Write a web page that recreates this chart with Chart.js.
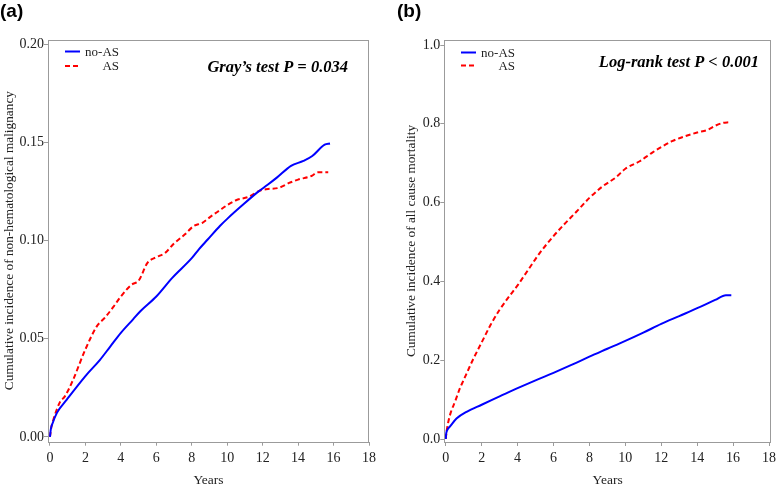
<!DOCTYPE html>
<html>
<head>
<meta charset="utf-8">
<script src="https://cdn.jsdelivr.net/npm/chart.js@4/dist/chart.umd.min.js"></script>
<style>
    html, body { margin: 0; padding: 0; background: #fff; }
    #wrap { position: relative; width: 777px; height: 489px; overflow: hidden; }
    canvas { position: absolute; top: 0; }
    #chartA { left: 0; }
    #chartB { left: 388px; }
</style>
</head>
<body>
<div id="wrap">
    <canvas id="chartA" width="388" height="489"></canvas>
    <canvas id="chartB" width="389" height="489"></canvas>
</div>
<script>
// ---- data ----
const yearTicks = [0, 2, 4, 6, 8, 10, 12, 14, 16, 18]

// (a) cumulative incidence of non-hematological malignancy
const aTicks = [0, 0.05, 0.10, 0.15, 0.20]
const aNoAsYears = [0, 0.05, 0.15, 0.4, 0.95, 2.0, 2.8, 3.4, 4.0, 4.7, 5.1, 6.0, 6.9, 8.0, 8.4, 8.9, 9.6, 10.0, 10.8, 11.7, 12.3, 12.8, 13.6, 14.3, 14.8, 15.5, 15.8]
const aNoAsInc = [0, 0.004, 0.007, 0.0124, 0.019, 0.031, 0.039, 0.046, 0.053, 0.060, 0.064, 0.0715, 0.081, 0.091, 0.0955, 0.1005, 0.1075, 0.111, 0.1175, 0.1245, 0.1285, 0.132, 0.138, 0.1405, 0.143, 0.1488, 0.1494]
const aAsYears = [0, 0.08, 0.2, 0.55, 0.85, 1.3, 2.0, 2.65, 3.1, 3.6, 4.0, 4.6, 5.0, 5.5, 6.0, 6.5, 7.0, 7.6, 8.1, 8.6, 9.1, 9.6, 10.0, 10.5, 11.2, 11.9, 12.3, 12.9, 13.5, 14.0, 14.8, 15.1, 15.7]
const aAsInc = [0, 0.005, 0.009, 0.0175, 0.0208, 0.029, 0.0446, 0.0564, 0.0607, 0.0665, 0.0715, 0.0775, 0.0795, 0.0886, 0.0915, 0.0937, 0.0985, 0.103, 0.1073, 0.109, 0.1124, 0.1155, 0.118, 0.1205, 0.1222, 0.1256, 0.1262, 0.1268, 0.1293, 0.131, 0.133, 0.1347, 0.1347]

// (b) cumulative incidence of all cause mortality
const bTicks = [0, 0.2, 0.4, 0.6, 0.8, 1.0]
const bNoAsYears = [0, 0.03, 0.1, 0.24, 0.6, 1.16, 2, 3, 4, 5, 6, 7, 8, 9, 10, 11, 12, 13, 14, 15, 15.6, 15.9]
const bNoAsInc = [0, 0.015, 0.024, 0.032, 0.052, 0.069, 0.087, 0.108, 0.129, 0.149, 0.168, 0.188, 0.209, 0.229, 0.249, 0.27, 0.292, 0.312, 0.332, 0.353, 0.365, 0.365]
const bAsYears = [0, 0.05, 0.15, 0.3, 0.52, 0.8, 1.0, 1.5, 2, 2.5, 3, 3.5, 4, 4.6, 5.2, 6, 6.6, 7.3, 8, 8.7, 9.5, 10, 10.8, 11.5, 12, 12.6, 13.3, 14, 14.6, 15.0, 15.4, 15.8]
const bAsInc = [0, 0.02, 0.045, 0.07, 0.095, 0.13, 0.15, 0.2, 0.245, 0.29, 0.328, 0.36, 0.39, 0.43, 0.47, 0.515, 0.545, 0.578, 0.612, 0.64, 0.665, 0.686, 0.705, 0.727, 0.741, 0.756, 0.768, 0.778, 0.785, 0.795, 0.802, 0.804]

const SERIF = "'Liberation Serif', 'Times New Roman', serif"
const FRAME = '#9b9b9b'
const INK = '#222'
const BLUE = '#0000ff'
const RED = '#ff0000'

function ToPoints(xs, ys) {
    return xs.map((x, i) => ({ x: x, y: ys[i] }))
}

// frame, in-plot legend, test annotation and panel letter
const panelDecor = {
    id: 'panelDecor',
    afterDraw(chart, args, o) {
        const ctx = chart.ctx
        const a = chart.chartArea
        ctx.save()

        ctx.strokeStyle = FRAME
        ctx.lineWidth = 1
        ctx.setLineDash([])
        ctx.strokeRect(Math.round(a.left) + 0.5, Math.round(a.top) + 0.5,
            Math.round(a.right - a.left) - 1, Math.round(a.bottom - a.top))

        // legend
        ctx.lineWidth = 2
        ctx.strokeStyle = BLUE
        ctx.beginPath()
        ctx.moveTo(o.legX, o.legY1)
        ctx.lineTo(o.legX + 15, o.legY1)
        ctx.stroke()
        ctx.strokeStyle = RED
        ctx.setLineDash([5, 3])
        ctx.beginPath()
        ctx.moveTo(o.legX, o.legY2)
        ctx.lineTo(o.legX + 13, o.legY2)
        ctx.stroke()
        ctx.setLineDash([])

        ctx.fillStyle = INK
        ctx.font = '13px ' + SERIF
        ctx.textAlign = 'right'
        ctx.textBaseline = 'middle'
        ctx.fillText('no-AS', o.legTextX, o.legY1 + 1)
        ctx.fillText('AS', o.legTextX, o.legY2 + 1)

        ctx.font = 'italic bold 16.5px ' + SERIF
        ctx.textBaseline = 'alphabetic'
        ctx.fillStyle = '#000'
        ctx.fillText(o.note, o.noteX, o.noteY)

        ctx.font = "bold 19px 'Liberation Sans', Arial, sans-serif"
        ctx.textAlign = 'left'
        ctx.fillText(o.letter, o.letterX, 17)
        ctx.restore()
    }
}

function MakePanel(id, p) {
    return new Chart(document.getElementById(id), {
        type: 'line',
        data: {
            datasets: [
                {
                    label: 'no-AS',
                    data: ToPoints(p.noAsYears, p.noAsInc),
                    borderColor: BLUE,
                    borderWidth: 2,
                    pointRadius: 0,
                    cubicInterpolationMode: 'monotone',
                    fill: false
                },
                {
                    label: 'AS',
                    data: ToPoints(p.asYears, p.asInc),
                    borderColor: RED,
                    borderWidth: 2,
                    borderDash: [5, 3],
                    pointRadius: 0,
                    cubicInterpolationMode: 'monotone',
                    fill: false
                }
            ]
        },
        options: {
            responsive: false,
            animation: false,
            layout: { padding: { left: 0, top: p.top, right: p.right, bottom: 0 } },
            plugins: {
                legend: { display: false },
                tooltip: { enabled: false },
                panelDecor: p.decor
            },
            scales: {
                x: {
                    type: 'linear',
                    min: p.xMin,
                    max: p.xMax,
                    afterBuildTicks: s => { s.ticks = yearTicks.map(v => ({ value: v })) },
                    afterFit: s => { s.height = p.xAxisHeight; s.paddingLeft = 0; s.paddingRight = 0 },
                    grid: { drawOnChartArea: false, drawTicks: true, tickLength: 4, color: FRAME },
                    border: { display: false },
                    ticks: { font: { family: SERIF, size: 14 }, color: INK, padding: 4, maxRotation: 0, autoSkip: false },
                    title: { display: true, text: 'Years', font: { family: SERIF, size: 13.5 }, color: INK, padding: 0 }
                },
                y: {
                    type: 'linear',
                    min: p.yMin,
                    max: p.yMax,
                    afterBuildTicks: s => { s.ticks = p.yTicks.map(v => ({ value: v })) },
                    afterFit: s => { s.width = p.yAxisWidth; s.paddingTop = 0; s.paddingBottom = 0 },
                    grid: { drawOnChartArea: false, drawTicks: true, tickLength: 4, color: FRAME },
                    border: { display: false },
                    ticks: {
                        font: { family: SERIF, size: 14 },
                        color: INK,
                        padding: 0,
                        autoSkip: false,
                        callback: v => v.toFixed(p.digits)
                    },
                    title: {
                        display: true,
                        text: p.yTitle,
                        font: { family: SERIF, size: 13.3 },
                        color: INK,
                        padding: { top: p.yTitlePad, bottom: 0 }
                    }
                }
            }
        },
        plugins: [panelDecor]
    })
}

MakePanel('chartA', {
    noAsYears: aNoAsYears, noAsInc: aNoAsInc, asYears: aAsYears, asInc: aAsInc,
    yTicks: aTicks, digits: 2,
    xMin: -0.11, xMax: 18, yMin: -0.0024, yMax: 0.2023,
    top: 39.5, right: 19, yAxisWidth: 48, xAxisHeight: 47.3, yTitlePad: 1.4,
    yTitle: 'Cumulative incidence of non-hematological malignancy',
    decor: { legX: 65, legY1: 51.5, legY2: 66, legTextX: 119, note: 'Gray\u2019s test P = 0.034', noteX: 348, noteY: 71.5, letter: '(a)', letterX: 0 }
})

MakePanel('chartB', {
    noAsYears: bNoAsYears, noAsInc: bNoAsInc, asYears: bAsYears, asInc: bAsInc,
    yTicks: bTicks, digits: 1,
    xMin: -0.08, xMax: 18.11, yMin: -0.0076, yMax: 1.0127,
    top: 40, right: 6, yAxisWidth: 56.3, xAxisHeight: 47, yTitlePad: 16,
    yTitle: 'Cumulative incidence of all cause mortality',
    decor: { legX: 73, legY1: 52.5, legY2: 65.5, legTextX: 127, note: 'Log-rank test P < 0.001', noteX: 371, noteY: 66.5, letter: '(b)', letterX: 9 }
})
</script>
</body>
</html>
